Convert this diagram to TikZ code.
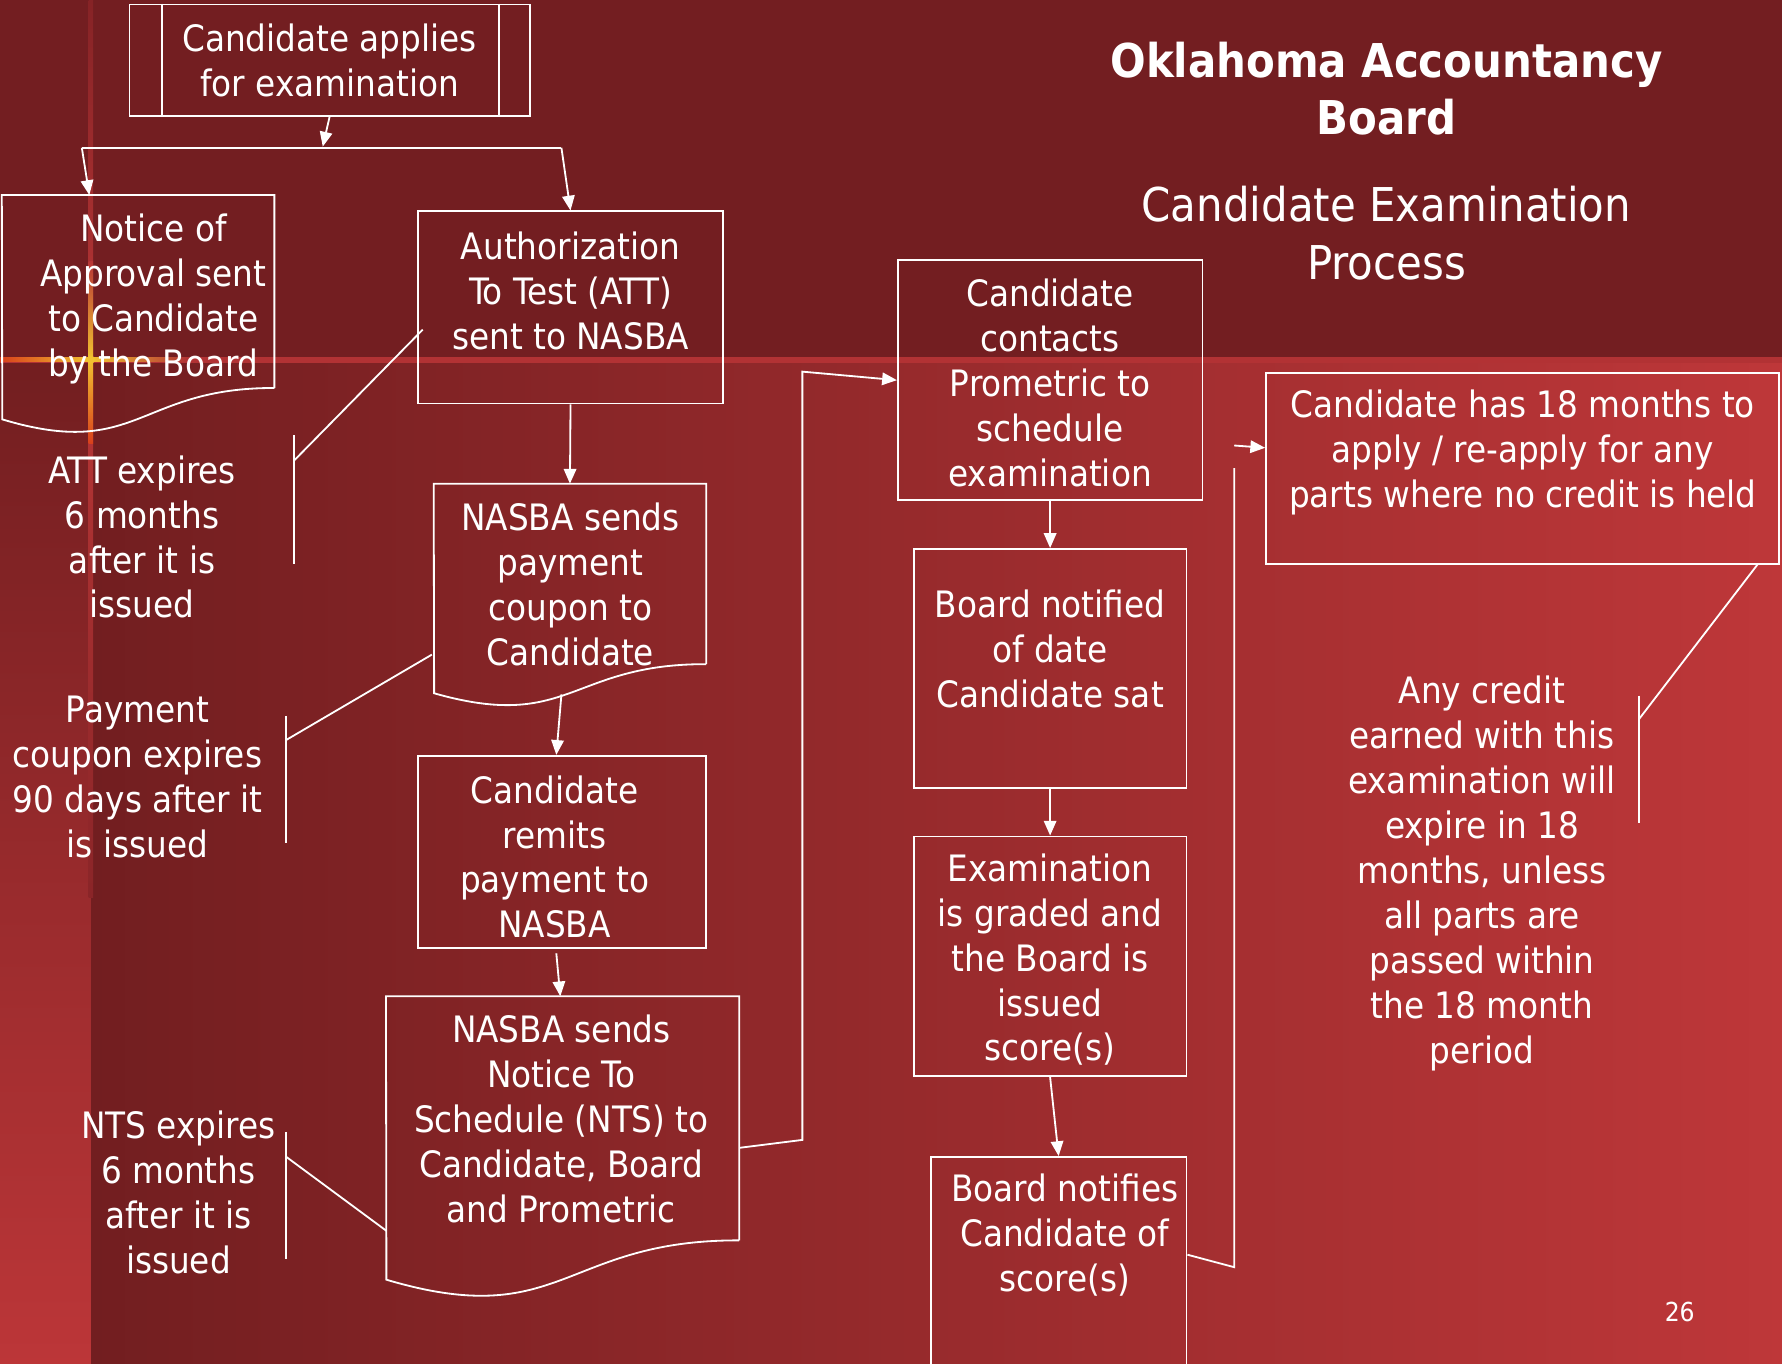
\documentclass[tikz,border=0pt]{standalone}
\usepackage{fontspec}
\IfFontExistsTF{DejaVu Sans Condensed}{\setmainfont{DejaVu Sans Condensed}}{\setmainfont{DejaVu Sans}[FakeStretch=0.9]}
\usetikzlibrary{arrows.meta,fit,calc}
\definecolor{bandc}{HTML}{731E21}
\definecolor{gradl}{HTML}{721E20}
\definecolor{gradr}{HTML}{BE3739}
\definecolor{stripb}{HTML}{BC3638}
\definecolor{stripec}{HTML}{B23234}
\definecolor{vlinec}{HTML}{B83636}
\definecolor{vlinetop}{HTML}{862326}
\definecolor{vlineend}{HTML}{8A2528}
\definecolor{glowc}{HTML}{F2C230}
\definecolor{glowo}{HTML}{D8401C}
\begin{document}
\begin{tikzpicture}[x=0.5pt,y=-0.5pt,
  box/.style={draw=white, line width=0.8pt, inner sep=0pt},
  ghost/.style={inner sep=0pt},
  txt/.style={text=white, align=center, font=\fontsize{16}{19.75}\selectfont, inner sep=0pt},
  ln/.style={draw=white, line width=0.8pt},
  arr/.style={draw=white, line width=0.8pt, -{Triangle[length=6.5pt,width=5.5pt]}},
]
% ---------- background ----------
\useasboundingbox (0,0) rectangle (1568,1200);
\shade[left color=gradl, right color=gradr] (80,316) rectangle (1568,1200);
\fill[bandc] (0,0) rectangle (1568,316);
\shade[top color=gradl, bottom color=stripb] (0,316) rectangle (80,1200);
\fill[stripec] (0,314) rectangle (1568,319);
\shade[top color=vlinetop, bottom color=vlinec] (78,0) rectangle (82,316);
\shade[top color=vlinec, bottom color=vlineend] (78,316) rectangle (82,790);
% glow
\shade[left color=glowo, right color=glowc] (0,314.5) rectangle (80,318.5);
\shade[left color=glowc, right color=stripec] (80,314.5) rectangle (165,318.5);
\shade[top color=vlinec, bottom color=glowc] (78,230) rectangle (82,316);
\shade[top color=glowc, bottom color=glowo] (78,316) rectangle (82,390);
\fill[glowc] (80,316.5) circle (3.5);

% ---------- title ----------
\node[txt, font=\bfseries\fontsize{20.5}{25}\selectfont] (title) at (1220,78) {Oklahoma Accountancy\\Board};
\node[txt, font=\fontsize{20.5}{25.5}\selectfont] (subtitle) at (1220,205.5) {Candidate Examination\\Process};
\node[txt, font=\fontsize{11.5}{13}\selectfont] (pagenum) at (1478,1154) {26};

% ---------- boxes ----------
\node[box, fit={(114,4) (466,102)}] (apply) {};
\draw[ln] ($(apply.north west)+(29,0)$) -- ($(apply.south west)+(29,0)$);
\draw[ln] ($(apply.north east)+(-28,0)$) -- ($(apply.south east)+(-28,0)$);
\node[txt] (applyt) at (290,53) {Candidate applies\\for examination};

% document: Notice of approval
\node[ghost, fit={(2,172) (241,341)}] (notice) {};
\draw[ln] (notice.south east) -- (notice.north east) -- (notice.north west) -- (2,369)
  .. controls (121.5,405) and (121.5,341) .. (notice.south east);
\node[txt] (noticet) at (135,263) {Notice of\\Approval sent\\to Candidate\\by the Board};

\node[box, fit={(368,186) (636,355)}] (att) {};
\node[txt] (attt) at (502,256) {Authorization\\To Test (ATT)\\sent to NASBA};

% document: NASBA payment coupon
\node[ghost, fit={(382,426) (621,584)}] (coupon) {};
\draw[ln] (coupon.south east) -- (coupon.north east) -- (coupon.north west) -- (382,610)
  .. controls (501.5,644) and (501.5,584) .. (coupon.south east);
\node[txt] (coupont) at (502,514.5) {NASBA sends\\payment\\coupon to\\Candidate};

\node[box, fit={(368,665) (621,834)}] (remit) {};
\node[txt] (remitt) at (488,754) {Candidate\\remits\\payment to\\NASBA};

% document: NTS
\node[ghost, fit={(340,877) (650,1091)}] (nts) {};
\draw[ln] (nts.south east) -- (nts.north east) -- (nts.north west) -- (340,1126)
  .. controls (495,1172) and (495,1091) .. (nts.south east);
\node[txt] (ntst) at (494,984.5) {NASBA sends\\Notice To\\Schedule (NTS) to\\Candidate, Board\\and Prometric};

\node[box, fit={(790,229) (1058,440)}] (contact) {};
\node[txt] (contactt) at (924,337) {Candidate\\contacts\\Prometric to\\schedule\\examination};

\node[box, fit={(804,483) (1044,693)}] (notified) {};
\node[txt] (notifiedt) at (924,571) {Board notified\\of date\\Candidate sat};

\node[box, fit={(804,736) (1044,947)}] (graded) {};
\node[txt] (gradedt) at (924,844.5) {Examination\\is graded and\\the Board is\\issued\\score(s)};

\node[box, fit={(819,1018) (1044,1210)}] (notifies) {};
\node[txt] (notifiest) at (937,1086.5) {Board notifies\\Candidate of\\score(s)};

\node[box, fit={(1114,328) (1565,496)}] (months) {};
\node[txt] (monthst) at (1340,398) {Candidate has 18 months to\\apply / re-apply for any\\parts where no credit is held};

% ---------- callouts ----------
\node[txt] (attnote) at (125,472.5) {ATT expires\\6 months\\after it is\\issued};
\draw[ln] (372,290) -- (259,405);
\draw[ln] (259,383) -- (259,496);

\node[txt] (paynote) at (121,683.5) {Payment\\coupon expires\\90 days after it\\is issued};
\draw[ln] (380,576) -- (252,651);
\draw[ln] (252,630) -- (252,742);

\node[txt] (ntsnote) at (157,1049) {NTS expires\\6 months\\after it is\\issued};
\draw[ln] (340,1083) -- (252,1018);
\draw[ln] (252,996) -- (252,1108);

\node[txt] (creditnote) at (1304,768.5) {Any credit\\earned with this\\examination will\\expire in 18\\months, unless\\all parts are\\passed within\\the 18 month\\period};
\draw[ln] (1547,496) -- (1442,633);
\draw[ln] (1442,612) -- (1442,724);

% ---------- connectors ----------
\coordinate (split) at (284,129);
\coordinate (hl) at (72,130);
\coordinate (hr) at (494,130);
\draw[arr] (apply.south) -- (split);
\draw[ln] (hl) -- (hr);
\draw[arr] (hl) -- ($(notice.north west)+(77,0)$);
\draw[arr] (hr) -- (att.north);
\draw[arr] (att.south) -- (coupon.north);
\draw[arr] (494,611) -- ($(remit.north)+(-5,0)$);
\draw[arr] ($(remit.south)+(-5,4)$) -- ($(nts.north)+(-2,0)$);
\coordinate (e1) at (706,1003);
\coordinate (e2) at (706,327);
\draw[arr] ($(nts.east)+(0,26)$) -- (e1) -- (e2) -- (contact.west);
\draw[arr] (contact.south) -- (notified.north);
\draw[arr] (notified.south) -- (graded.north);
\draw[arr] (graded.south) -- (notifies.north);
\coordinate (f1) at (1086,1115);
\coordinate (f2) at (1086,412);
\coordinate (f3) at (1086,392);
\draw[ln] ($(notifies.east)+(0,-10)$) -- (f1) -- (f2);
\draw[arr] (f3) -- ($(months.west)+(0,-18)$);
\end{tikzpicture}
\end{document}
